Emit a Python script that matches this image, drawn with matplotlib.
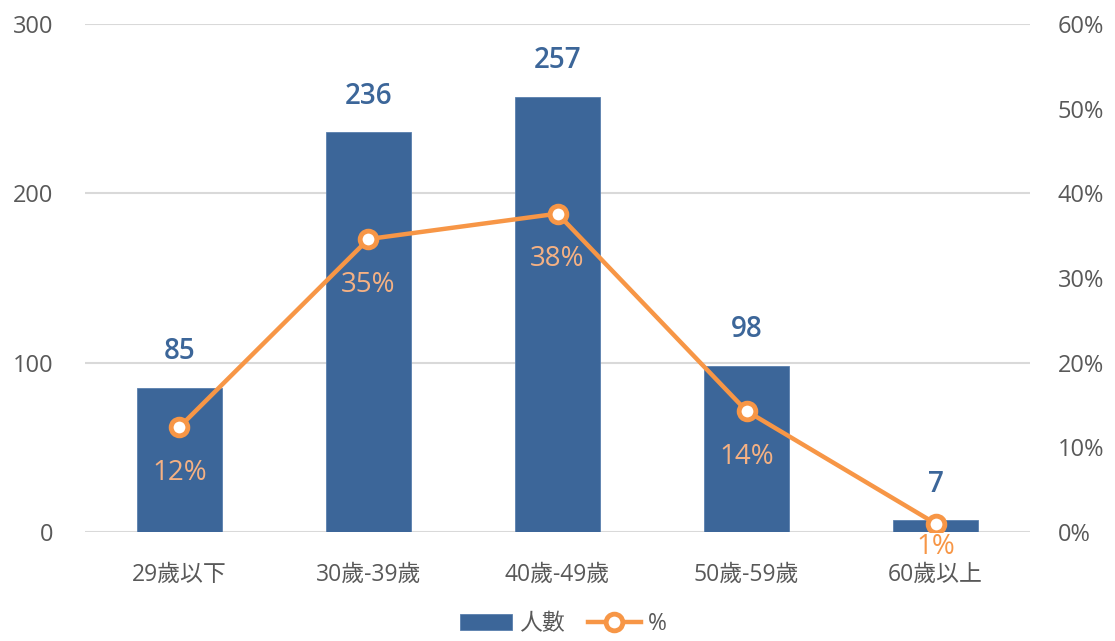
import matplotlib
matplotlib.use("Agg")
import matplotlib.pyplot as plt
from matplotlib.ticker import FuncFormatter

plt.rcParams['font.family'] = ['Open Sans', 'Noto Sans CJK TC', 'DejaVu Sans']

categories = ["29歲以下", "30歲-39歲", "40歲-49歲", "50歲-59歲", "60歲以上"]
counts = [85, 236, 257, 98, 7]
percents = [12.4, 34.6, 37.6, 14.3, 1.0]
pct_labels = ["12%", "35%", "38%", "14%", "1%"]
left_ticks = [0, 100, 200, 300]
right_ticks = [0, 10, 20, 30, 40, 50, 60]

BLUE = "#3C6699"
ORANGE = "#F79646"
PEACH = "#F5B183"
GRAY = "#595959"
GRID = "#D9D9D9"

fig = plt.figure(figsize=(11.15, 6.41), dpi=100)
ax = fig.add_axes([0.0762, 0.170, 0.8476, 0.7926])
ax2 = ax.twinx()

x = list(range(len(categories)))
bars = ax.bar(x, counts, width=0.45, color=BLUE, edgecolor="#5A7FAE", linewidth=0.6, zorder=3, label="人數")
ax.set_xlim(-0.5, len(categories) - 0.5)
ax.set_ylim(0, 300)
ax.set_yticks(left_ticks)
ax.yaxis.grid(True, color=GRID, linewidth=1.5, zorder=0)
ax.set_axisbelow(True)
ax.set_xticks(x)
ax.set_xticklabels(categories)
ax.tick_params(axis='x', length=0, pad=22, labelsize=16.5, colors=GRAY)
ax.tick_params(axis='y', length=0, pad=23, labelsize=17, colors=GRAY)
for s in ax.spines.values():
    s.set_visible(False)
for s in ax2.spines.values():
    s.set_visible(False)

for xi, c in zip(x, counts):
    ax.annotate(str(c), (xi, c), xytext=(0, 26), textcoords="offset points",
                ha="center", va="center", fontsize=20, fontweight="semibold", color=BLUE)

line, = ax2.plot(x, percents, color=ORANGE, linewidth=3.2, marker="o", markersize=12,
                 markerfacecolor="white", markeredgecolor=ORANGE, markeredgewidth=3.5,
                 zorder=5, label="%")
ax2.set_ylim(0, 60)
ax2.set_yticks(right_ticks)
ax2.yaxis.set_major_formatter(FuncFormatter(lambda v, p: f"{int(v)}%"))
ax2.tick_params(axis='y', length=0, pad=20, labelsize=17, colors=GRAY)

for i, (xi, p, lab) in enumerate(zip(x, percents, pct_labels)):
    last = i == len(x) - 1
    col = ORANGE if last else PEACH
    off = -17 if last else -33
    ax2.annotate(lab, (xi, p), xytext=(0, off), textcoords="offset points",
                 ha="center", va="center", fontsize=20, color=col, zorder=6)

leg = fig.legend(handles=[bars, line], labels=["人數", "%"], loc="center",
                 bbox_to_anchor=(0.505, 0.026), ncol=2, frameon=False,
                 fontsize=16.5, handlelength=2.3, handleheight=0.7,
                 columnspacing=1.0, handletextpad=0.3, labelcolor=GRAY,
                 borderpad=0.2)

fig.savefig("out.png", dpi=100)
